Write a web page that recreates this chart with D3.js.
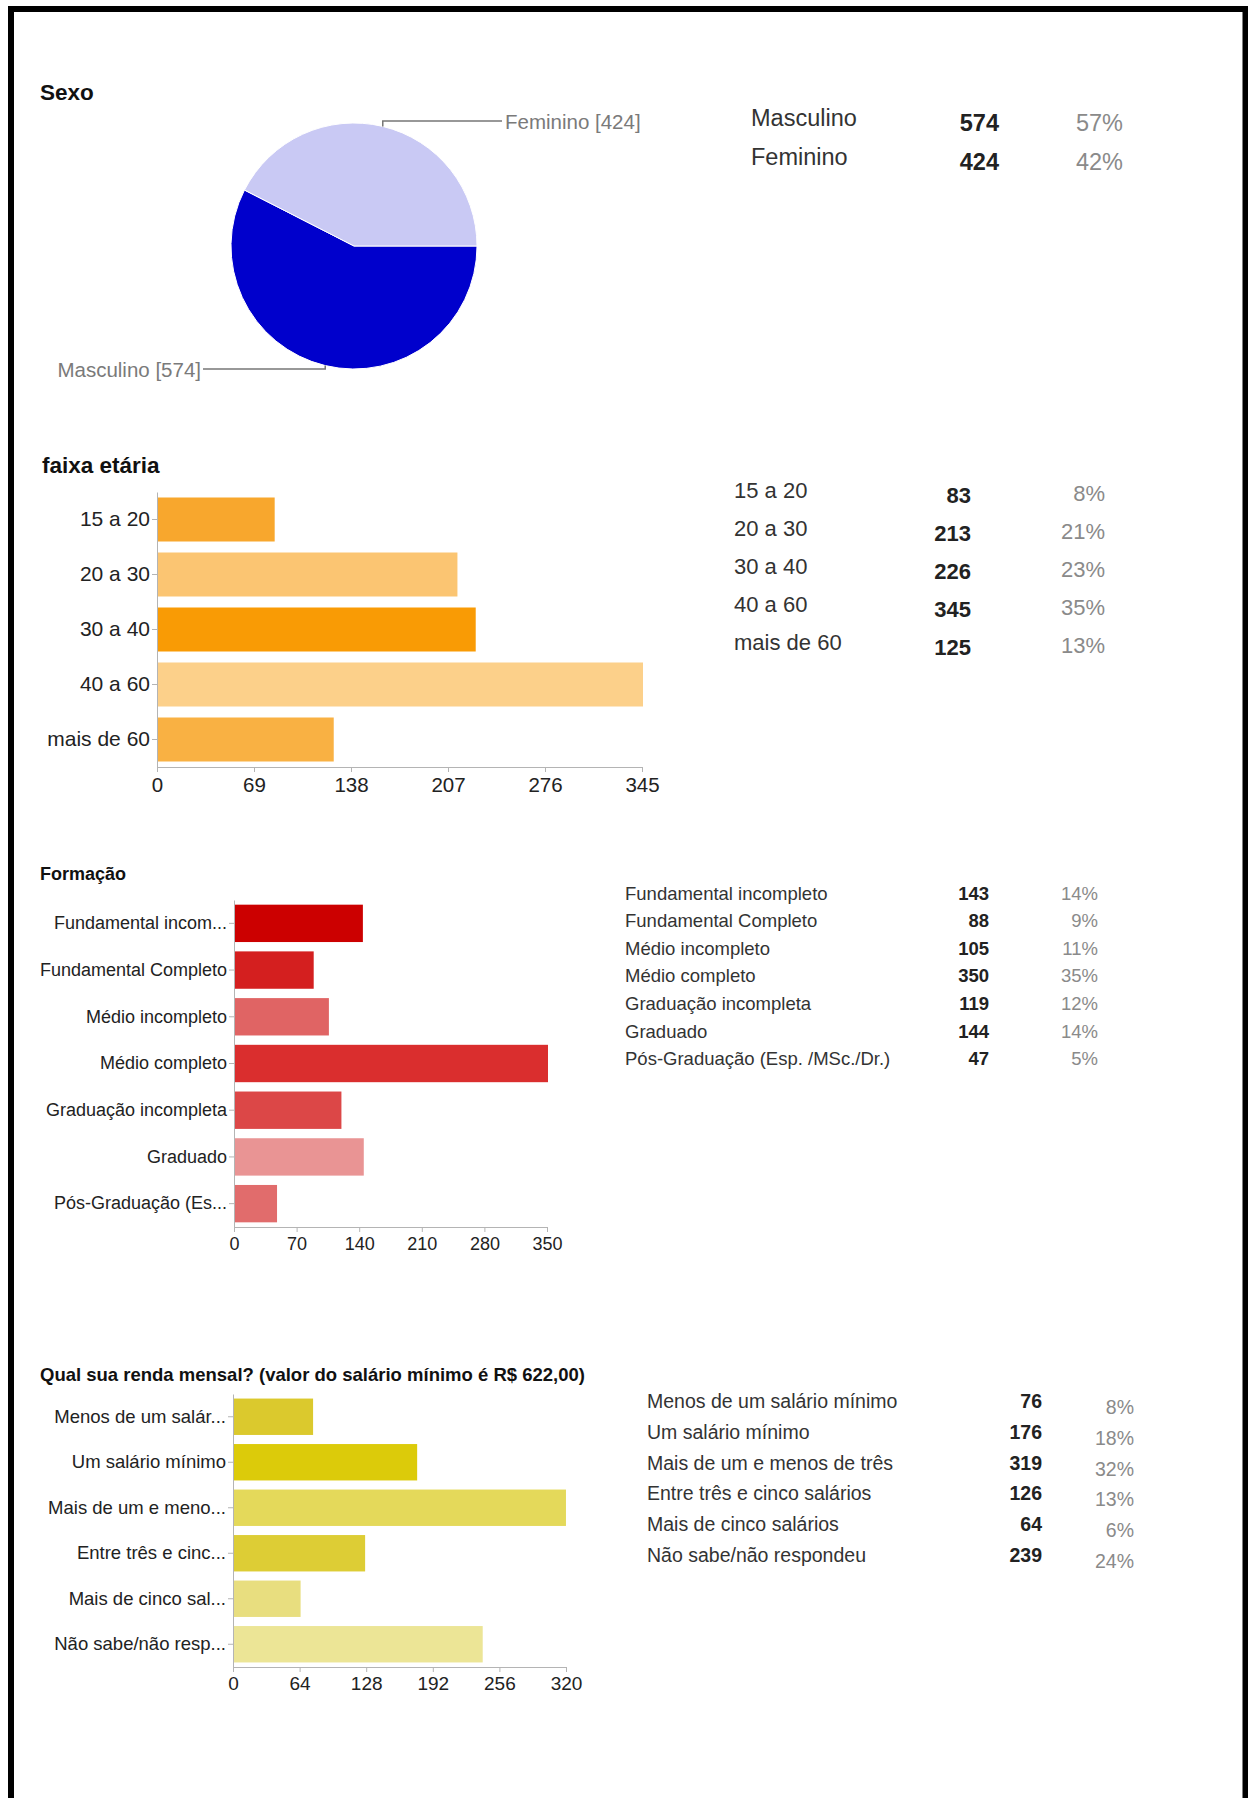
<!DOCTYPE html>
<html>
<head>
<meta charset="utf-8">
<script src="https://cdn.jsdelivr.net/npm/d3@7"></script>
<style>
  html, body { margin: 0; padding: 0; background: #fff; }
  svg { display: block; }
  text { font-family: "Liberation Sans", Arial, sans-serif; }
</style>
</head>
<body>
<div id="chart"></div>
<script>
// ---------------- DATA ----------------
const sexoTitle = "Sexo";
const sexoLabels = ["Masculino", "Feminino"];
const sexoValues = [574, 424];
const sexoPct = ["57%", "42%"];
const sexoColors = ["#0000cc", "#c9c9f4"];

const faixaTitle = "faixa etária";
const faixaLabels = ["15 a 20", "20 a 30", "30 a 40", "40 a 60", "mais de 60"];
const faixaValues = [83, 213, 226, 345, 125];
const faixaPct = ["8%", "21%", "23%", "35%", "13%"];
const faixaTicks = [0, 69, 138, 207, 276, 345];
const faixaColors = ["#f8a72d", "#fbc572", "#f99b05", "#fcd08a", "#f9b143"];

const formTitle = "Formação";
const formLabels = ["Fundamental incompleto", "Fundamental Completo", "Médio incompleto", "Médio completo",
  "Graduação incompleta", "Graduado", "Pós-Graduação (Esp. /MSc./Dr.)"];
const formAxisLabels = ["Fundamental incom...", "Fundamental Completo", "Médio incompleto", "Médio completo",
  "Graduação incompleta", "Graduado", "Pós-Graduação (Es..."];
const formValues = [143, 88, 105, 350, 119, 144, 47];
const formPct = ["14%", "9%", "11%", "35%", "12%", "14%", "5%"];
const formTicks = [0, 70, 140, 210, 280, 350];
const formColors = ["#cc0000", "#d41f1f", "#e06464", "#da2e2e", "#dc4747", "#e99494", "#e16c6c"];

const rendaTitle = "Qual sua renda mensal? (valor do salário mínimo é R$ 622,00)";
const rendaLabels = ["Menos de um salário mínimo", "Um salário mínimo", "Mais de um e menos de três",
  "Entre três e cinco salários", "Mais de cinco salários", "Não sabe/não respondeu"];
const rendaAxisLabels = ["Menos de um salár...", "Um salário mínimo", "Mais de um e meno...",
  "Entre três e cinc...", "Mais de cinco sal...", "Não sabe/não resp..."];
const rendaValues = [76, 176, 319, 126, 64, 239];
const rendaPct = ["8%", "18%", "32%", "13%", "6%", "24%"];
const rendaTicks = [0, 64, 128, 192, 256, 320];
const rendaColors = ["#dbc92d", "#dccb0a", "#e4d95a", "#ddcd35", "#e8de7f", "#ece596"];

// ---------------- SVG ----------------
const W = 1248, H = 1798;
const svg = d3.select("#chart").append("svg").attr("width", W).attr("height", H);
svg.append("rect").attr("width", W).attr("height", H).attr("fill", "#fff");

// frame (left, top, right)
svg.append("path")
  .attr("d", `M11,${H} L11,9 L1245.5,9 L1245.5,${H}`)
  .attr("fill", "none").attr("stroke", "#000").attr("stroke-width", 6);

function title(txt, x, y, size) {
  svg.append("text").attr("x", x).attr("y", y).attr("dominant-baseline", "central")
    .attr("font-size", size).attr("font-weight", "bold").attr("fill", "#111").text(txt);
}

// ---------------- PIE (Sexo) ----------------
title(sexoTitle, 40, 92, 22.5);
{
  const cx = 354, cy = 246, r = 123;
  const pie = d3.pie().sort(null).startAngle(Math.PI / 2).endAngle(Math.PI / 2 + 2 * Math.PI);
  const arcs = pie(sexoValues);
  const arc = d3.arc().innerRadius(0).outerRadius(r);
  const g = svg.append("g").attr("transform", `translate(${cx},${cy})`);
  g.selectAll("path").data(arcs).enter().append("path")
    .attr("d", arc).attr("fill", (d, i) => sexoColors[i])
    .attr("stroke", "#fff").attr("stroke-width", 1);

  const lab = svg.append("g");
  const mid = a => (a.startAngle + a.endAngle) / 2;
  // Feminino: leader from slice middle (top of pie)
  const fA = mid(arcs[1]);
  const fx = cx + r * Math.sin(fA), fy = cy - r * Math.cos(fA);
  lab.append("path").attr("d", `M${fx},${fy} L${fx},121 L502,121`)
    .attr("fill", "none").attr("stroke", "#777").attr("stroke-width", 1.5);
  lab.append("text").attr("x", 505).attr("y", 121).attr("dominant-baseline", "central")
    .attr("font-size", 20.5).attr("fill", "#7a7a7a").text(`${sexoLabels[1]} [${sexoValues[1]}]`);
  // Masculino: leader from slice middle (bottom of pie)
  const mA = mid(arcs[0]);
  const mx = cx + r * Math.sin(mA), my = cy - r * Math.cos(mA);
  lab.append("path").attr("d", `M${mx},${my} L${mx},369 L203,369`)
    .attr("fill", "none").attr("stroke", "#777").attr("stroke-width", 1.5);
  lab.append("text").attr("x", 201).attr("y", 369).attr("dominant-baseline", "central")
    .attr("text-anchor", "end").attr("font-size", 20.5).attr("fill", "#7a7a7a")
    .text(`${sexoLabels[0]} [${sexoValues[0]}]`);
}

// ---------------- TABLE helper ----------------
function table(labels, values, pcts, o) {
  const g = svg.append("g");
  labels.forEach((l, i) => {
    const y = o.y0 + o.step * i;
    g.append("text").attr("x", o.xl).attr("y", y).attr("dominant-baseline", "central")
      .attr("font-size", o.fs).attr("fill", "#333").text(l);
    g.append("text").attr("x", o.xn).attr("y", y + o.dn).attr("dominant-baseline", "central")
      .attr("text-anchor", "end").attr("font-size", o.fs).attr("font-weight", "bold")
      .attr("fill", "#222").text(values[i]);
    g.append("text").attr("x", o.xp).attr("y", y + o.dp).attr("dominant-baseline", "central")
      .attr("text-anchor", "end").attr("font-size", o.fs).attr("fill", "#8a8a8a").text(pcts[i]);
  });
}

table(sexoLabels, sexoValues, sexoPct, { xl: 751, xn: 999, xp: 1123, y0: 118, step: 39, dn: 5, dp: 5, fs: 23.5 });

// ---------------- BAR CHART helper ----------------
function barChart(labels, values, colors, ticks, o) {
  const x = d3.scaleLinear().domain([0, ticks[ticks.length - 1]]).range([o.x0, o.x1]);
  const y = d3.scaleBand().domain(labels).range([o.yTop, o.yBot]).paddingInner(0.2).paddingOuter(0.1);
  const g = svg.append("g");
  g.selectAll("rect").data(values).enter().append("rect")
    .attr("x", x(0) + 1).attr("y", (d, i) => y(labels[i]))
    .attr("width", d => x(d) - x(0)).attr("height", y.bandwidth())
    .attr("fill", (d, i) => colors[i]);

  const xa = g.append("g").attr("transform", `translate(0,${o.yBot})`)
    .call(d3.axisBottom(x).tickValues(ticks).tickSize(5).tickSizeOuter(0).tickPadding(o.tp).tickFormat(d3.format("d")));
  xa.selectAll("text").attr("font-size", o.tfs).attr("fill", "#222").style("font-family", '"Liberation Sans", Arial, sans-serif');
  xa.selectAll("line, path").attr("stroke", "#b4b4b4");

  const ya = g.append("g").attr("transform", `translate(${o.x0},0)`)
    .call(d3.axisLeft(y).tickSize(5).tickSizeOuter(0).tickPadding(2));
  ya.selectAll("text").attr("font-size", o.lfs).attr("fill", "#222").style("font-family", '"Liberation Sans", Arial, sans-serif');
  ya.selectAll("line, path").attr("stroke", "#b4b4b4");
  return ya;
}

// ---------------- faixa etária ----------------
title(faixaTitle, 42, 465, 22.5);
barChart(faixaLabels, faixaValues, faixaColors, faixaTicks,
  { x0: 157, x1: 642, yTop: 492, yBot: 767, tp: 5, tfs: 20.5, lfs: 21 });
table(faixaLabels, faixaValues, faixaPct, { xl: 734, xn: 971, xp: 1105, y0: 490, step: 38, dn: 5, dp: 3, fs: 22 });

// ---------------- Formação ----------------
title(formTitle, 40, 874, 18);
barChart(formAxisLabels, formValues, formColors, formTicks,
  { x0: 234, x1: 547, yTop: 900, yBot: 1227, tp: 5, tfs: 18, lfs: 18 });
table(formLabels, formValues, formPct, { xl: 625, xn: 989, xp: 1098, y0: 893, step: 27.6, dn: 0, dp: 0, fs: 18.5 });

// ---------------- Renda ----------------
title(rendaTitle, 40, 1374, 18.5);
barChart(rendaAxisLabels, rendaValues, rendaColors, rendaTicks,
  { x0: 233, x1: 566, yTop: 1394, yBot: 1667, tp: 5, tfs: 19, lfs: 18.5 });
table(rendaLabels, rendaValues, rendaPct, { xl: 647, xn: 1042, xp: 1134, y0: 1401, step: 30.8, dn: 0, dp: 6, fs: 19.5 });
</script>
</body>
</html>
